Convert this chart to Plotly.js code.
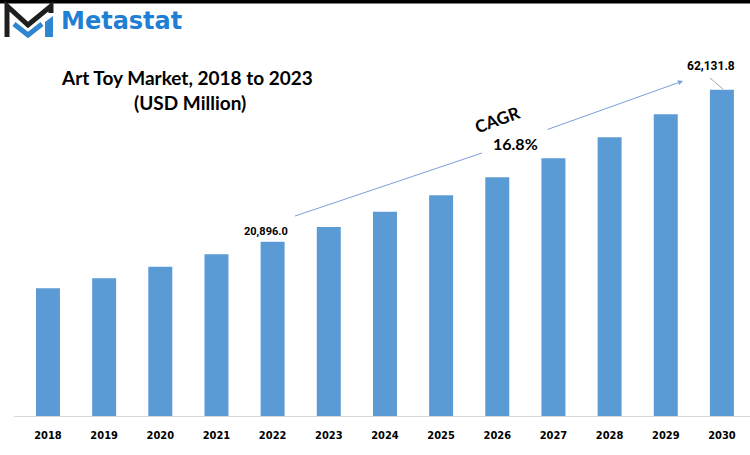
<!DOCTYPE html>
<html>
<head>
<meta charset="utf-8">
<script src="https://cdn.plot.ly/plotly-3.0.1.min.js"></script>
<style>html,body{margin:0;padding:0;background:#fff;}#chart{width:750px;height:455px;}</style>
</head>
<body>
<div id="chart"></div>
<script>
// ---- data ----
const years = ['2018','2019','2020','2021','2022','2023','2024','2025','2026','2027','2028','2029','2030'];
const values = [8254, 10967, 14114, 17478, 20896.0, 24884, 29035, 33484, 38367, 43521, 49218, 55458, 62131.8];
const labelYears = ['2022', '2030'];
const labelTexts = ['20,896.0', '62,131.8'];
const titleLines = ['Art Toy Market, 2018 to 2023', '(USD Million)'];
const cagrLabel = 'CAGR';
const cagrValue = '16.8%';
const brand = 'Metastat';

// ---- layout helpers ----
const W = 750, H = 455;
const M = {l: 14, r: 0, t: 40, b: 39};
const PW = W - M.l - M.r, PH = H - M.t - M.b;
const px = x => (x - M.l) / PW;
const py = y => (H - M.b - y) / PH;
const pathOf = pts => pts.map((p, i) => (i ? 'L' : 'M') + px(p[0]).toFixed(5) + ',' + py(p[1]).toFixed(5)).join(' ');

const BASE = -26390;   // axis floor of the original (non-zero) value axis
const TOP = 75615;

const barColor = '#5b9bd5';
const arrowColor = '#7aa0dc';
const boldFont = 'Lato, "Open Sans", sans-serif';
const labelFont = 'Roboto, "Liberation Sans", sans-serif';
const narrowFont = '"Liberation Sans Narrow", "DejaVu Sans Condensed", "Liberation Sans", sans-serif';

const trace = {
  type: 'bar',
  x: years,
  y: values.map(v => v - BASE),
  base: BASE,
  marker: {color: barColor},
  hoverinfo: 'skip'
};

const shapes = [
  // top black band
  {type: 'rect', xref: 'paper', yref: 'paper', x0: px(0), x1: px(W), y0: py(0), y1: py(3.5), fillcolor: '#000', line: {width: 0}, layer: 'above'},
  // logo: black chevron
  {type: 'path', xref: 'paper', yref: 'paper', path: pathOf([[7,37],[7,6],[28,25],[51,6],[51,13]]), line: {color: '#1e1e1e', width: 5}},
  // logo: blue chevron
  {type: 'path', xref: 'paper', yref: 'paper', path: pathOf([[14,24],[28,35],[42,24]]), line: {color: '#2f86d0', width: 5}},
  {type: 'path', xref: 'paper', yref: 'paper', path: pathOf([[45,22],[53,16],[53,37],[45,37]]) + ' Z', fillcolor: '#2f86d0', line: {width: 0}},
  // CAGR arrow, first segment
  {type: 'line', xref: 'paper', yref: 'paper', x0: px(295), y0: py(216), x1: px(482), y1: py(153), line: {color: arrowColor, width: 1}},
  // leader line to last bar
  {type: 'line', xref: 'paper', yref: 'paper', x0: px(710), y0: py(78), x1: px(723), y1: py(89), line: {color: '#a6a6a6', width: 1}}
];

const annotations = [
  {xref: 'paper', yref: 'paper', x: px(187), y: py(77), text: titleLines[0], showarrow: false, xanchor: 'center', yanchor: 'middle', font: {family: boldFont, size: 19, color: '#000', weight: 'bold'}},
  {xref: 'paper', yref: 'paper', x: px(190), y: py(103), text: titleLines[1], showarrow: false, xanchor: 'center', yanchor: 'middle', font: {family: boldFont, size: 19, color: '#000', weight: 'bold'}},
  {xref: 'paper', yref: 'paper', x: px(59), y: py(21), text: brand, showarrow: false, xanchor: 'left', yanchor: 'middle', font: {family: '"DejaVu Sans", sans-serif', size: 24, color: '#1f7fd4', weight: 'bold'}},
  // second segment with arrow head
  {xref: 'paper', yref: 'paper', x: px(683), y: py(81), ax: 546 - 683, ay: 130 - 81, axref: 'pixel', ayref: 'pixel', text: '', showarrow: true, arrowhead: 2, arrowsize: 1, arrowwidth: 1, arrowcolor: arrowColor, standoff: 0},
  {xref: 'paper', yref: 'paper', x: px(497), y: py(119), text: cagrLabel, showarrow: false, textangle: -20, xanchor: 'center', yanchor: 'middle', font: {family: boldFont, size: 17, color: '#000', weight: 'bold'}},
  {xref: 'paper', yref: 'paper', x: px(515), y: py(143), text: cagrValue, showarrow: false, xanchor: 'center', yanchor: 'middle', font: {family: boldFont, size: 16, color: '#000', weight: 'bold'}}
];

// value labels tied to their bars (category axis: position by category index)
const labelShift = [{dx: -7, dy: 10, size: 11}, {dx: -11, dy: 24, size: 12}];
labelYears.forEach((yr, i) => {
  const idx = years.indexOf(yr);
  annotations.push({
    xref: 'x', yref: 'y', x: idx, y: values[idx], text: labelTexts[i], showarrow: false,
    xanchor: 'center', yanchor: 'middle', xshift: labelShift[i].dx, yshift: labelShift[i].dy,
    font: {family: labelFont, size: labelShift[i].size, color: '#000', weight: 'bold'}
  });
});

const layout = {
  width: W, height: H,
  margin: M,
  paper_bgcolor: '#fff', plot_bgcolor: '#fff',
  showlegend: false,
  bargap: 0.573,
  xaxis: {
    type: 'category', range: [-0.605, 12.5], showgrid: false, zeroline: false,
    showline: true, linecolor: '#d9d9d9', linewidth: 1, ticks: '',
    ticklabelstandoff: 9,
    tickfont: {family: narrowFont, size: 11, color: '#000', weight: 'bold'},
    fixedrange: true
  },
  yaxis: {range: [BASE, TOP], visible: false, showgrid: false, zeroline: false, fixedrange: true},
  shapes: shapes,
  annotations: annotations
};

Plotly.newPlot('chart', [trace], layout, {displayModeBar: false, staticPlot: true});
</script>
</body>
</html>
